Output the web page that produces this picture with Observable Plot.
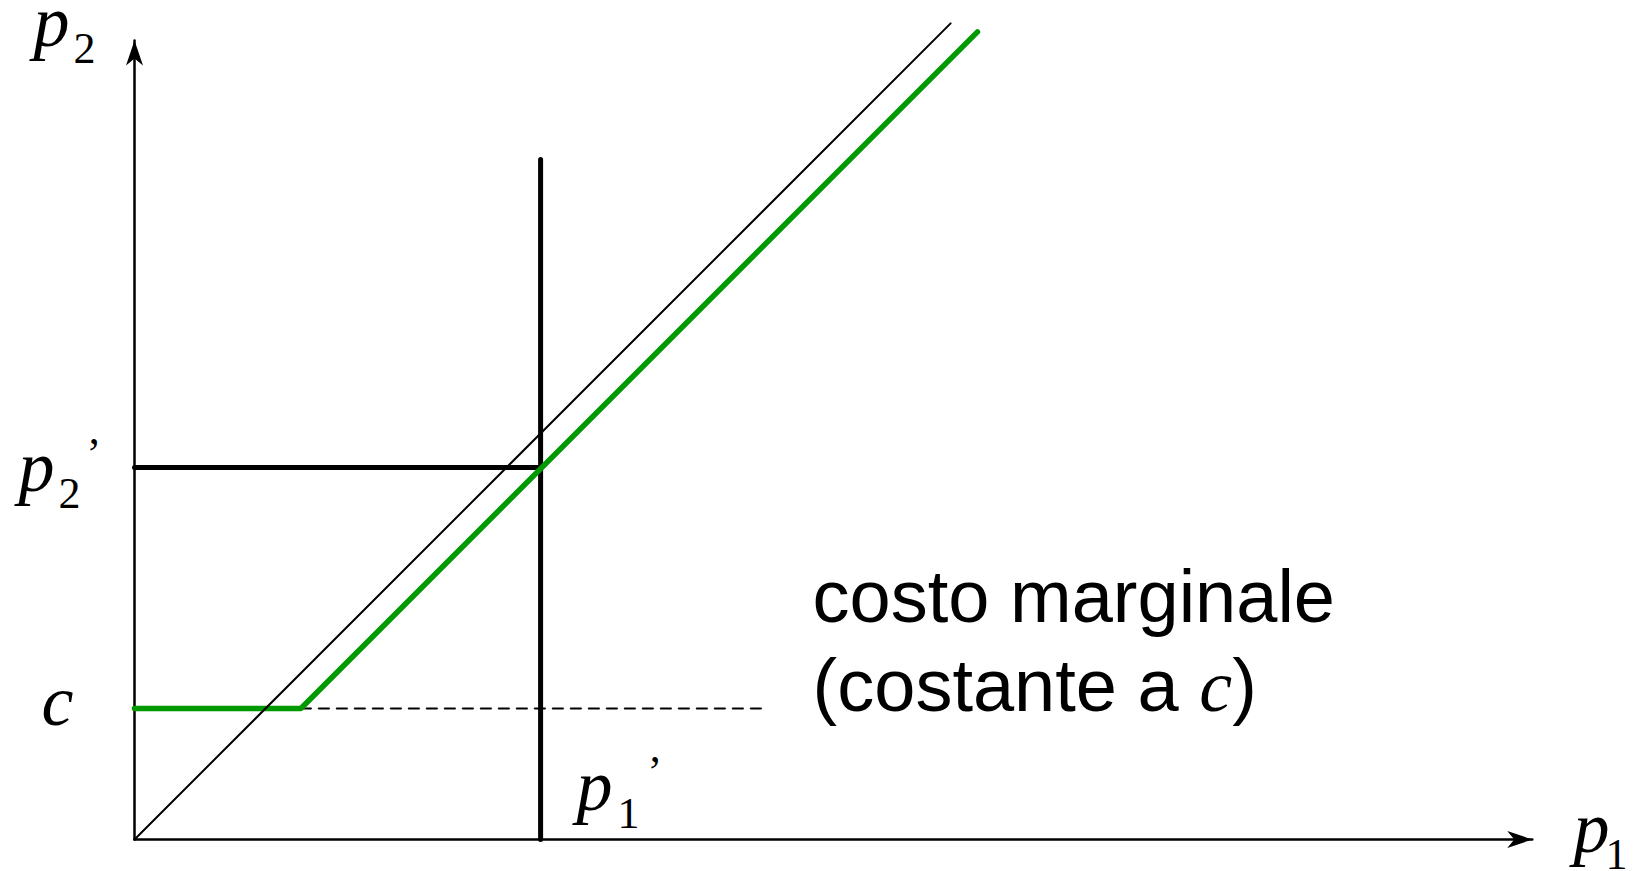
<!DOCTYPE html>
<html>
<head>
<meta charset="utf-8">
<script src="https://cdn.jsdelivr.net/npm/d3@7"></script>
<script src="https://cdn.jsdelivr.net/npm/@observablehq/plot@0.6"></script>
<style>
  html, body { margin: 0; padding: 0; background: #fff; }
  #chart svg { display: block; }
</style>
</head>
<body>
<div id="chart"></div>
<script>
// ---- values (1 unit = marginal cost c) ----
const c = 1.0;
const p1Prime = 3.10;
const p2Prime = 2.84;
const kinkX = 1.27;
const greenX = [0, kinkX, 6.435];
const greenY = [c, c, 6.165];
const diagonalX = [0, 6.23];
const diagonalY = [0, 6.23];
const verticalTop = 5.19;
const dashedEnd = 4.81;
const axisXEnd = 10.67;
const axisYEnd = 6.10;
const annotationLines = ["costo marginale", "(costante a ", "c", ")"];

// ---- tables built from the arrays ----
const green = greenX.map((x, i) => ({x, y: greenY[i]}));
const diagonal = diagonalX.map((x, i) => ({x, y: diagonalY[i]}));
const verticalLine = [{x: p1Prime, y: 0}, {x: p1Prime, y: verticalTop}];
const horizontalLine = [{x: 0, y: p2Prime}, {x: p1Prime, y: p2Prime}];
const dashed = [{x: kinkX, y: c}, {x: dashedEnd, y: c}];
const xAxis = [{x: 0, y: 0}, {x: axisXEnd, y: 0}];
const yAxis = [{x: 0, y: 0}, {x: 0, y: axisYEnd}];

const stealth = {
  draw(ctx, size) {
    const r = Math.sqrt(size / Math.PI);
    ctx.moveTo(0, 0);
    ctx.lineTo(0.34 * r, r);
    ctx.lineTo(0, 0.72 * r);
    ctx.lineTo(-0.34 * r, r);
    ctx.closePath();
  }
};

const W = 1640, H = 871;
const mL = 134, mB = 32;
const k = 131; // px per unit
const serif = "'Liberation Serif', 'Times New Roman', Times, serif";
const sans = "'Liberation Sans', Arial, Helvetica, sans-serif";
const bigMath = 72, subMath = 44;

const lbl = (data, opts) => Plot.text(data, {textAnchor: "start", lineAnchor: "bottom", fill: "black", ...opts});

const plot = Plot.plot({
  width: W,
  height: H,
  marginLeft: mL,
  marginRight: 0,
  marginTop: 0,
  marginBottom: mB,
  x: {domain: [0, (W - mL) / k], axis: null},
  y: {domain: [0, (H - mB) / k], axis: null},
  style: {background: "white", overflow: "visible"},
  marks: [
    // axes
    Plot.line(xAxis, {x: "x", y: "y", stroke: "black", strokeWidth: 2.5}),
    Plot.line(yAxis, {x: "x", y: "y", stroke: "black", strokeWidth: 2.5}),
    Plot.dot([xAxis[1]], {x: "x", y: "y", r: 25, symbol: stealth, fill: "black", stroke: "none", rotate: 90}),
    Plot.dot([yAxis[1]], {x: "x", y: "y", r: 25, symbol: stealth, fill: "black", stroke: "none", rotate: 0}),
    // dashed marginal cost continuation
    Plot.line(dashed, {x: "x", y: "y", stroke: "black", strokeWidth: 2.2, strokeDasharray: "10,8"}),
    // p1' and p2' lines
    Plot.line(verticalLine, {x: "x", y: "y", stroke: "black", strokeWidth: 5}),
    Plot.line(horizontalLine, {x: "x", y: "y", stroke: "black", strokeWidth: 5}),
    // green best response
    Plot.line(green, {x: "x", y: "y", stroke: "#009900", strokeWidth: 5.5, strokeLinejoin: "miter"}),
    // 45 degree line
    Plot.line(diagonal, {x: "x", y: "y", stroke: "black", strokeWidth: 2}),
    // labels: p2 (top-left)
    lbl(["p"], {frameAnchor: "top-left", text: d => d, dx: -101, dy: 45, fontFamily: serif, fontStyle: "italic", fontSize: bigMath}),
    lbl(["2"], {frameAnchor: "top-left", text: d => d, dx: -61, dy: 62, fontFamily: serif, fontSize: subMath}),
    // p2'
    lbl([{y: p2Prime}], {x: () => 0, y: "y", text: () => "p", dx: -116, dy: 24, fontFamily: serif, fontStyle: "italic", fontSize: bigMath}),
    lbl([{y: p2Prime}], {x: () => 0, y: "y", text: () => "2", dx: -76, dy: 41, fontFamily: serif, fontSize: subMath}),
    lbl([{y: p2Prime}], {x: () => 0, y: "y", text: () => "\u2019", dx: -48, dy: 1, fontFamily: serif, fontSize: subMath}),
    // c
    lbl([{y: c}], {x: () => 0, y: "y", text: () => "c", dx: -93, dy: 16, fontFamily: serif, fontStyle: "italic", fontSize: bigMath}),
    // p1'
    lbl([{x: p1Prime}], {x: "x", y: () => 0, text: () => "p", dx: 36, dy: -30, fontFamily: serif, fontStyle: "italic", fontSize: bigMath}),
    lbl([{x: p1Prime}], {x: "x", y: () => 0, text: () => "1", dx: 77, dy: -12, fontFamily: serif, fontSize: subMath}),
    lbl([{x: p1Prime}], {x: "x", y: () => 0, text: () => "\u2019", dx: 107, dy: -54, fontFamily: serif, fontSize: subMath}),
    // p1 (bottom-right)
    lbl(["p"], {frameAnchor: "bottom-right", text: d => d, dx: -67, dy: 12, fontFamily: serif, fontStyle: "italic", fontSize: bigMath}),
    lbl(["1"], {frameAnchor: "bottom-right", text: d => d, dx: -35, dy: 29, fontFamily: serif, fontSize: subMath}),
    // annotation
    lbl([{x: dashedEnd, y: c}], {x: "x", y: "y", text: () => annotationLines[0] + "\n" + annotationLines[1] + annotationLines[2] + annotationLines[3],
      dx: 48, dy: 2, fontFamily: sans, fontSize: 74, lineHeight: 1.2, className: "annot"})
  ]
});

// make the "c" in the second annotation line an italic serif letter
d3.select(plot).selectAll(".annot text tspan").each(function() {
  const t = d3.select(this);
  if (t.text() === annotationLines[1] + annotationLines[2] + annotationLines[3]) {
    t.text(null);
    t.append("tspan").text(annotationLines[1]);
    t.append("tspan").attr("font-family", serif).attr("font-style", "italic").text(annotationLines[2]);
    t.append("tspan").text(annotationLines[3]);
  }
});

document.getElementById("chart").appendChild(plot);
</script>
</body>
</html>
